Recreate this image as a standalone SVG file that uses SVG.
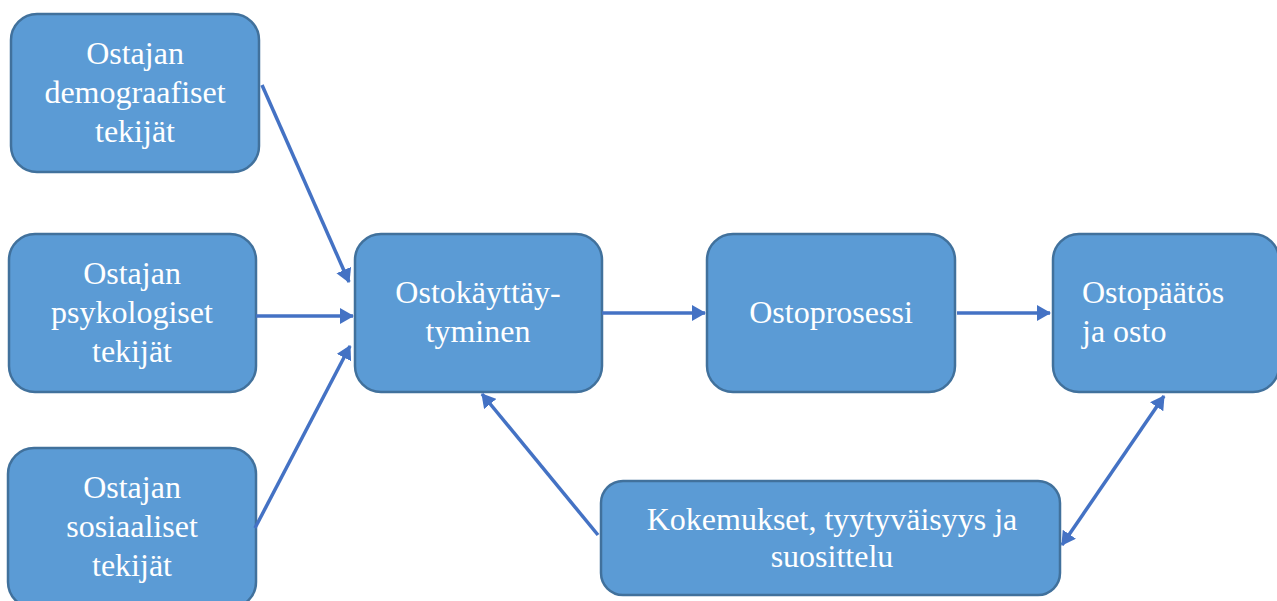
<svg xmlns="http://www.w3.org/2000/svg" width="1277" height="601" viewBox="0 0 1277 601">
<defs>
<style>
.box{fill:#5B9BD5;stroke:#41719C;stroke-width:2.5}
.t{font-family:"Liberation Serif","Times New Roman",serif;font-size:32px;fill:#ffffff}
.c{text-anchor:middle}
.ln{stroke:#4472C4;stroke-width:3.5;fill:none}
</style>
<marker id="ah" viewBox="0 0 14 16" refX="13" refY="8" markerWidth="14" markerHeight="16" markerUnits="userSpaceOnUse" orient="auto-start-reverse">
<path d="M0,0 L14,8 L0,16 Z" fill="#4472C4"/>
</marker>
</defs>
<rect width="1277" height="601" fill="#ffffff"/>
<g id="n1"><rect class="box" x="11" y="14" width="248" height="158" rx="26"/>
<text class="t c" x="135" y="64">Ostajan</text><text class="t c" x="135" y="103">demograafiset</text><text class="t c" x="135" y="142">tekijät</text></g>
<g id="n2"><rect class="box" x="9" y="234" width="247" height="158" rx="26"/>
<text class="t c" x="132" y="284">Ostajan</text><text class="t c" x="132" y="323">psykologiset</text><text class="t c" x="132" y="362">tekijät</text></g>
<g id="n3"><rect class="box" x="8" y="448" width="248" height="160" rx="26"/>
<text class="t c" x="132" y="498">Ostajan</text><text class="t c" x="132" y="537">sosiaaliset</text><text class="t c" x="132" y="576">tekijät</text></g>
<g id="n4"><rect class="box" x="355" y="234" width="247" height="158" rx="26"/>
<text class="t c" x="478" y="303">Ostokäyttäy-</text><text class="t c" x="478" y="342">tyminen</text></g>
<g id="n5"><rect class="box" x="707" y="234" width="248" height="158" rx="26"/>
<text class="t c" x="831" y="323">Ostoprosessi</text></g>
<g id="n6"><rect class="box" x="1053" y="234" width="226" height="158" rx="26"/>
<text class="t" x="1082" y="303">Ostopäätös</text><text class="t" x="1082" y="342">ja osto</text></g>
<g id="n7"><rect class="box" x="601" y="481" width="459" height="114" rx="22"/>
<text class="t c" x="832" y="530">Kokemukset, tyytyväisyys ja</text><text class="t c" x="832" y="567">suosittelu</text></g>
<g id="connectors">
<line class="ln" x1="262" y1="85" x2="349" y2="282" marker-end="url(#ah)"/>
<line class="ln" x1="256" y1="316" x2="353" y2="316" marker-end="url(#ah)"/>
<line class="ln" x1="255" y1="528" x2="350" y2="346" marker-end="url(#ah)"/>
<line class="ln" x1="602" y1="313" x2="705" y2="313" marker-end="url(#ah)"/>
<line class="ln" x1="957" y1="313" x2="1050" y2="313" marker-end="url(#ah)"/>
<line class="ln" x1="598" y1="535" x2="482" y2="394" marker-end="url(#ah)"/>
<line class="ln" x1="1062" y1="545" x2="1164" y2="396" marker-start="url(#ah)" marker-end="url(#ah)"/>
</g>
</svg>
